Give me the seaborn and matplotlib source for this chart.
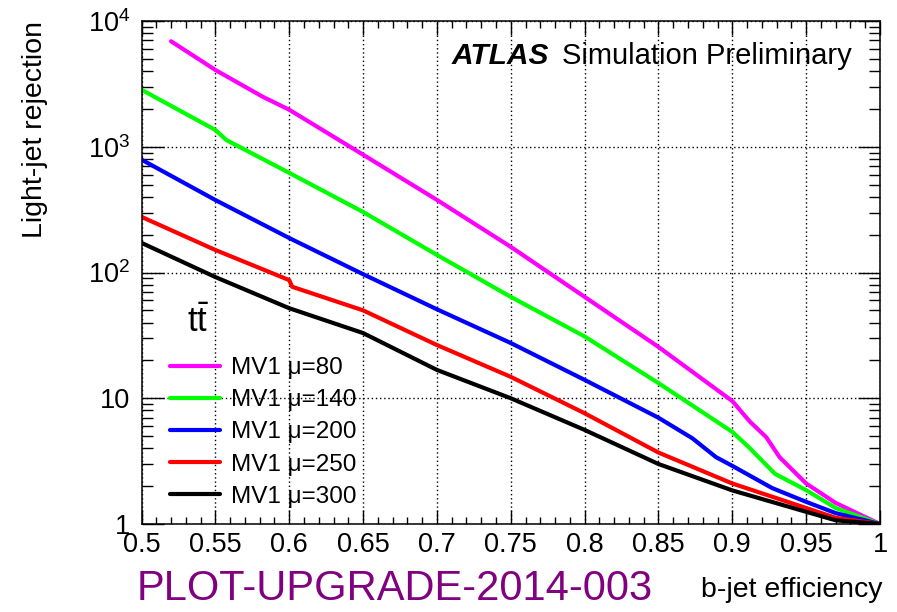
import numpy as np
import pandas as pd
import matplotlib
matplotlib.use("Agg")
import matplotlib.pyplot as plt
from matplotlib.ticker import FixedLocator, MultipleLocator, LogLocator, NullFormatter
import seaborn as sns

# b-tagging performance: light-jet rejection vs b-jet efficiency (MV1, ttbar)
eff_mu80 = [0.52, 0.55, 0.582, 0.60, 0.65, 0.70, 0.75, 0.80, 0.85, 0.90, 0.912, 0.923, 0.932, 0.95, 0.97, 1.0]
rej_mu80 = [6900, 4080, 2500, 1970, 865, 378, 160, 64, 25.6, 9.5, 6.5, 4.9, 3.4, 2.1, 1.47, 1.0]

eff_mu140 = [0.50, 0.55, 0.5575, 0.60, 0.65, 0.70, 0.75, 0.80, 0.85, 0.90, 0.911, 0.929, 0.95, 0.97, 1.0]
rej_mu140 = [2840, 1360, 1130, 620, 303, 138, 64, 31, 13.2, 5.4, 4.1, 2.5, 1.86, 1.34, 1.0]

eff_mu200 = [0.50, 0.55, 0.60, 0.65, 0.70, 0.75, 0.80, 0.85, 0.873, 0.889, 0.90, 0.927, 0.95, 0.97, 1.0]
rej_mu200 = [790, 377, 188, 97, 51, 27.5, 14, 7.0, 4.8, 3.4, 2.9, 1.93, 1.5, 1.22, 1.0]

eff_mu250 = [0.50, 0.55, 0.60, 0.602, 0.65, 0.70, 0.75, 0.80, 0.85, 0.90, 0.95, 0.97, 1.0]
rej_mu250 = [277, 151, 87, 77, 50, 26.5, 14.8, 7.6, 3.7, 2.1, 1.34, 1.12, 1.0]

eff_mu300 = [0.50, 0.55, 0.60, 0.65, 0.70, 0.75, 0.80, 0.85, 0.90, 0.95, 0.97, 1.0]
rej_mu300 = [172, 92, 52, 33, 16.8, 10, 5.6, 3.0, 1.85, 1.25, 1.07, 1.0]

series_labels = ["MV1 \u03bc=80", "MV1 \u03bc=140", "MV1 \u03bc=200", "MV1 \u03bc=250", "MV1 \u03bc=300"]
series_colors = ["#ff00ff", "#00ff00", "#0000ff", "#ff0000", "#000000"]

x_ticks = [0.5, 0.55, 0.6, 0.65, 0.7, 0.75, 0.8, 0.85, 0.9, 0.95, 1.0]
x_tick_labels = ["0.5", "0.55", "0.6", "0.65", "0.7", "0.75", "0.8", "0.85", "0.9", "0.95", "1"]
y_ticks = [1, 10, 100, 1000, 10000]
y_tick_labels = ["1", "10", "$10^{2}$", "$10^{3}$", "$10^{4}$"]

frames = []
for lab, e, r in zip(series_labels,
                     [eff_mu80, eff_mu140, eff_mu200, eff_mu250, eff_mu300],
                     [rej_mu80, rej_mu140, rej_mu200, rej_mu250, rej_mu300]):
    frames.append(pd.DataFrame({"eff": e, "rej": r, "tagger": lab}))
df = pd.concat(frames, ignore_index=True)

sns.set_theme(style="ticks")
plt.rcParams["font.family"] = ["Liberation Sans", "DejaVu Sans"]
plt.rcParams["mathtext.fontset"] = "custom"
plt.rcParams["mathtext.rm"] = "Liberation Sans"
plt.rcParams["mathtext.it"] = "Liberation Sans:italic"
plt.rcParams["mathtext.bf"] = "Liberation Sans:bold"
plt.rcParams["text.color"] = "black"
plt.rcParams["axes.labelcolor"] = "black"
plt.rcParams["xtick.color"] = "black"
plt.rcParams["ytick.color"] = "black"

W, H = 897, 612
fig = plt.figure(figsize=(W / 100, H / 100), dpi=100)
fig.patch.set_facecolor("white")
ax = fig.add_axes([141.5 / W, 1 - 524 / H, (880 - 141.5) / W, (524 - 21) / H])
ax.set_facecolor("white")

sns.lineplot(data=df, x="eff", y="rej", hue="tagger", palette=dict(zip(series_labels, series_colors)),
             hue_order=series_labels, estimator=None, sort=False, linewidth=3.0, ax=ax, legend=False)

ax.set_yscale("log")
ax.set_xlim(0.5, 1.0)
ax.set_ylim(1, 1e4)

ax.xaxis.set_major_locator(FixedLocator(x_ticks))
ax.set_xticklabels(x_tick_labels)
ax.xaxis.set_minor_locator(MultipleLocator(0.01))
ax.yaxis.set_major_locator(FixedLocator(y_ticks))
ax.set_yticklabels(y_tick_labels)
ax.yaxis.set_minor_locator(LogLocator(base=10, subs=np.arange(2, 10)))
ax.yaxis.set_minor_formatter(NullFormatter())

ax.tick_params(axis="both", which="both", direction="in", top=True, right=True,
               width=1.0, colors="black", labelsize=19.5)
ax.tick_params(axis="x", which="major", length=10, pad=6)
ax.tick_params(axis="x", which="minor", length=5)
ax.tick_params(axis="y", which="major", length=16, pad=8)
ax.tick_params(axis="y", which="minor", length=8)

for s in ax.spines.values():
    s.set_linewidth(1.1)
    s.set_color("black")

ax.grid(which="major", color="black", linestyle=(0, (1, 2)), linewidth=1.0)
ax.set_xlabel("")
ax.set_ylabel("")

fig.text(35 / W, 1 - 21 / H, "Light-jet rejection", rotation=90, ha="center", va="top", fontsize=20.5)
fig.text(882 / W, 1 - 597 / H, "b-jet efficiency", ha="right", va="baseline", fontsize=20.5)
fig.text(137 / W, 1 - 600 / H, "PLOT-UPGRADE-2014-003", ha="left", va="baseline", fontsize=30, color="#800080")

fig.text(452 / W, 1 - 64 / H, "ATLAS", ha="left", va="baseline", fontsize=21.5,
         fontweight="bold", fontstyle="italic")
fig.text(852 / W, 1 - 64 / H, "Simulation Preliminary", ha="right", va="baseline", fontsize=21)

fig.text(187 / W, 1 - 332 / H, r"$\mathrm{t}\bar{\mathrm{t}}$", ha="left", va="baseline", fontsize=25)

handles = ax.get_lines()[:5]
leg = ax.legend(handles, series_labels, loc="upper left", bbox_to_anchor=(170 / W, 1 - 357 / H),
                bbox_transform=fig.transFigure, frameon=False, fontsize=17.5, borderpad=0,
                borderaxespad=0, handlelength=2.06, handletextpad=0.45, labelspacing=0.42)
for t in leg.get_texts():
    t.set_color("black")

fig.savefig("out.png", dpi=100, facecolor="white")
